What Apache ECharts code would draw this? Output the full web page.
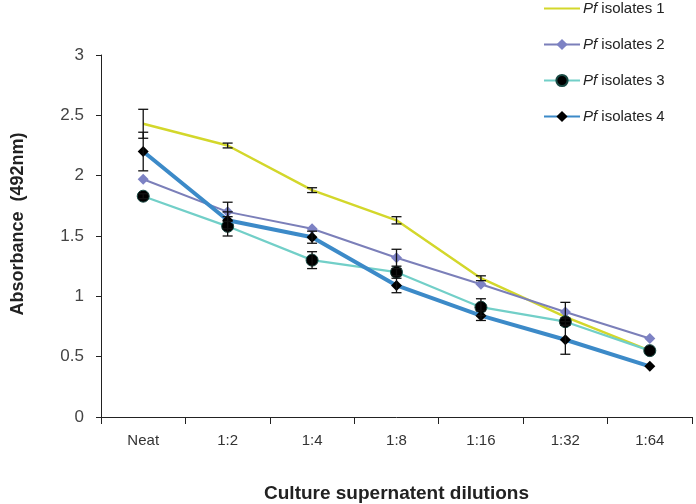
<!DOCTYPE html>
<html><head><meta charset="utf-8">
<script src="https://cdn.jsdelivr.net/npm/echarts@6/dist/echarts.min.js"></script>
<style>html,body{margin:0;padding:0;background:#fff}#c{width:696px;height:504px}</style>
</head><body><div id="c"></div>
<script>
const categories = ['Neat','1:2','1:4','1:8','1:16','1:32','1:64'];
const names = ['isolates 1','isolates 2','isolates 3','isolates 4'];
const s1 = [2.43, 2.25, 1.88, 1.63, 1.15, 0.83, 0.55];
const s2 = [1.97, 1.70, 1.56, 1.32, 1.10, 0.87, 0.65];
const s3 = [1.83, 1.58, 1.30, 1.20, 0.91, 0.79, 0.55];
const s4 = [2.20, 1.63, 1.49, 1.09, 0.84, 0.64, 0.42];
const e1 = [0.12, 0.02, 0.02, 0.03, 0.02, 0, 0];
const e2 = [0, 0.08, 0, 0.07, 0, 0.08, 0];
const e3 = [0.02, 0.08, 0.07, 0.03, 0.07, 0.03, 0];
const e4 = [0.16, 0.07, 0.05, 0.06, 0.04, 0.12, 0];
const yTicks = [0, 0.5, 1, 1.5, 2, 2.5, 3];

const colors = ['#d3d72b', '#7b7fb9', '#72cfc8', '#3c8ac8'];
const chart = echarts.init(document.getElementById('c'));

function errSeries(vals, errs, z) {
  return {
    type: 'custom', z: z, silent: true, legendHoverLink: false,
    data: vals.map((v, i) => [i, v, errs[i]]),
    renderItem: function (params, api) {
      const i = api.value(0), v = api.value(1), e = api.value(2);
      if (!e) return null;
      const top = api.coord([i, v + e]);
      const bot = api.coord([i, v - e]);
      const w = 5;
      const st = { stroke: '#111', lineWidth: 1.3 };
      return { type: 'group', children: [
        { type: 'line', shape: { x1: top[0], y1: top[1], x2: bot[0], y2: bot[1] }, style: st },
        { type: 'line', shape: { x1: top[0]-w, y1: top[1], x2: top[0]+w, y2: top[1] }, style: st },
        { type: 'line', shape: { x1: bot[0]-w, y1: bot[1], x2: bot[0]+w, y2: bot[1] }, style: st }
      ]};
    }
  };
}

chart.setOption({
  animation: false,
  textStyle: { fontFamily: 'Liberation Sans, Arial, sans-serif' },
  grid: { left: 101, right: 4, top: 55, bottom: 87, containLabel: false, outerBoundsMode: 'none' },
  legend: {
    orient: 'vertical', left: 538, top: -4, itemWidth: 36, itemHeight: 14, itemGap: 21,
    data: [
      { name: names[0], itemStyle: { opacity: 0 } },
      names[1], names[2], names[3]
    ],
    formatter: function (n) { return '{i|Pf} ' + n; },
    textStyle: { fontSize: 15, color: '#222', padding: [0, 0, 0, -2],
      rich: { i: { fontStyle: 'italic', fontSize: 15, color: '#222' } } }
  },
  xAxis: {
    type: 'category', data: categories, boundaryGap: true,
    axisLine: { lineStyle: { color: '#222', width: 1 } },
    axisTick: { show: true, length: 7, lineStyle: { color: '#222' } },
    axisLabel: { fontSize: 15, color: '#333', margin: 16 },
    name: 'Culture supernatent dilutions', nameLocation: 'middle', nameGap: 67,
    nameTextStyle: { fontSize: 19, fontWeight: 'bold', color: '#222' }
  },
  yAxis: {
    type: 'value', min: 0, max: 3, interval: 0.5,
    splitLine: { show: false },
    axisLine: { show: true, lineStyle: { color: '#222', width: 1 } },
    axisTick: { show: true, length: 5, lineStyle: { color: '#222' } },
    axisLabel: { fontSize: 17, color: '#444', margin: 17,
      formatter: function (v) { return yTicks.indexOf(v) >= 0 ? String(v) : ''; } },
    name: 'Absorbance  (492nm)', nameLocation: 'middle', nameGap: 74, nameRotate: 90,
    nameTextStyle: { fontSize: 18, fontWeight: 'bold', color: '#222', padding: [0, 0, 0, 24] }
  },
  series: [
    { name: names[0], type: 'line', data: s1, showSymbol: false, z: 2,
      lineStyle: { color: colors[0], width: 2.5 }, itemStyle: { color: colors[0] } },
    { name: names[1], type: 'line', data: s2, symbol: 'diamond', symbolSize: 11, z: 3,
      lineStyle: { color: colors[1], width: 2 }, itemStyle: { color: '#7d82c4' } },
    { name: names[2], type: 'line', data: s3, symbol: 'circle', symbolSize: 12, z: 4,
      lineStyle: { color: colors[2], width: 2.2 }, itemStyle: { color: '#000', borderColor: '#1a4a44', borderWidth: 1 } },
    { name: names[3], type: 'line', data: s4, symbol: 'diamond', symbolSize: 11, z: 5,
      lineStyle: { color: colors[3], width: 4 }, itemStyle: { color: '#000' } },
    errSeries(s1, e1, 6), errSeries(s2, e2, 6), errSeries(s3, e3, 6), errSeries(s4, e4, 6)
  ]
});
</script></body></html>
